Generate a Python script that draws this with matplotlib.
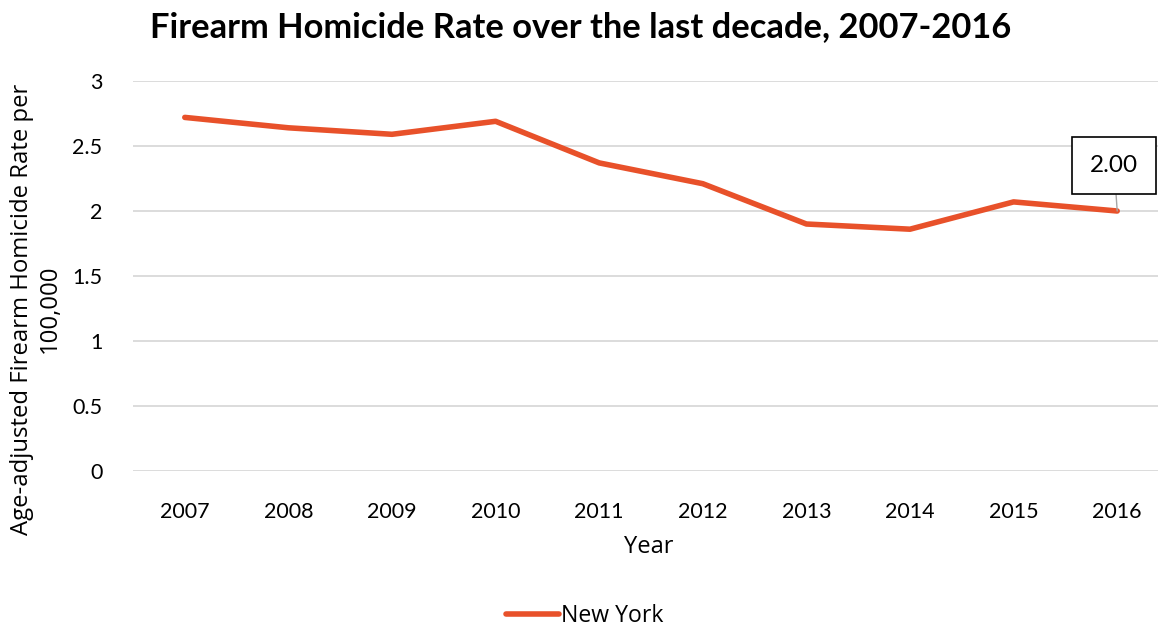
import matplotlib
matplotlib.use("Agg")
import matplotlib.pyplot as plt
from matplotlib.lines import Line2D

years = ["2007", "2008", "2009", "2010", "2011", "2012", "2013", "2014", "2015", "2016"]
rates = [2.72, 2.64, 2.59, 2.69, 2.37, 2.21, 1.90, 1.86, 2.07, 2.00]
yticks = [0, 0.5, 1, 1.5, 2, 2.5, 3]
ytick_labels = ["0", "0.5", "1", "1.5", "2", "2.5", "3"]
series_name = "New York"
title = "Firearm Homicide Rate over the last decade, 2007-2016"
ylabel = "Age-adjusted Firearm Homicide Rate per\n100,000"
xlabel = "Year"
annot_label = "2.00"

plt.rcParams['font.family'] = ['Lato', 'DejaVu Sans']
sans2 = ['Open Sans', 'DejaVu Sans']
color = "#E8512A"

W, H = 1158, 627
fig = plt.figure(figsize=(W / 100, H / 100), dpi=100)
ax = fig.add_axes([133 / W, 1 - 471 / H, 1036 / W, 390 / H])

x = list(range(len(years)))
ax.plot(x, rates, color=color, lw=4, solid_capstyle='round', solid_joinstyle='round', zorder=3)
ax.set_xlim(-0.5, len(years) - 0.5)
ax.set_ylim(0, 3)
ax.set_yticks(yticks)
ax.set_yticklabels(ytick_labels)
ax.set_xticks(x)
ax.set_xticklabels(years)
ax.grid(axis='y', color='#D9D9D9', lw=1.3)
ax.set_axisbelow(True)
for s in ax.spines.values():
    s.set_visible(False)
ax.tick_params(axis='both', length=0, labelsize=15.5, colors='#000000')
ax.tick_params(axis='x', pad=22)
ax.tick_params(axis='y', pad=22)

# data label
ax.annotate(annot_label, xy=(x[-1], rates[-1]), xytext=(x[-1] - 0.03, 2.35),
            ha='center', va='center', fontsize=17.5,
            bbox=dict(boxstyle='square,pad=0.75', fc='white', ec='black', lw=1.2),
            arrowprops=dict(arrowstyle='-', color='#A6A6A6', lw=1, shrinkA=0, shrinkB=0),
            zorder=5)

fig.text(581 / W, 1 - 27 / H, title, ha='center', va='center', fontsize=24.8, fontweight='bold')
fig.text(36 / W, 1 - 309 / H, ylabel, ha='center', va='center', rotation=90, fontsize=17.2,
         linespacing=1.2, multialignment='center', family=sans2)
fig.text(649 / W, 1 - 547 / H, xlabel, ha='center', va='center', fontsize=17, family=sans2)

handle = Line2D([], [], color=color, lw=4, solid_capstyle='round')
fig.legend([handle], [series_name], loc='center', bbox_to_anchor=(585 / W, 1 - 616 / H),
           frameon=False, prop={'family': sans2, 'size': 16.6}, handlelength=2.3, handletextpad=0.1)

fig.savefig("out.png", dpi=100)
